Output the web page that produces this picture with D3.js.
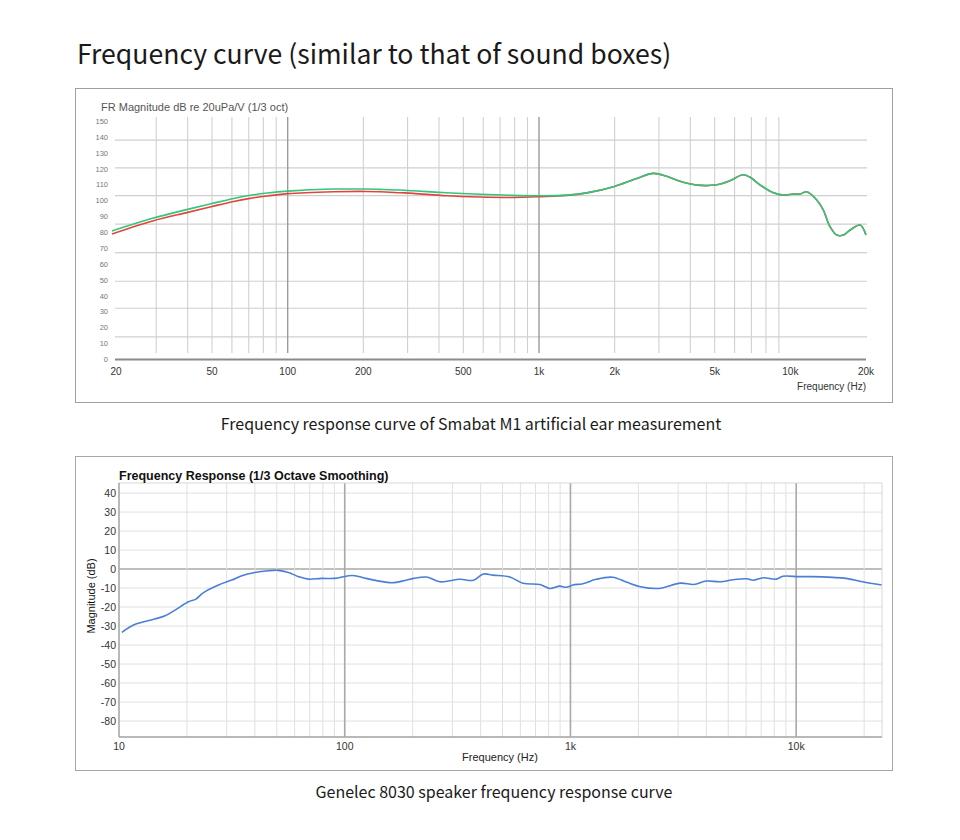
<!DOCTYPE html>
<html>
<head>
<meta charset="utf-8">
<script src="https://cdn.jsdelivr.net/npm/d3@7"></script>
<style>
  body { margin: 0; background: #fff; }
  svg { display: block; }
  .cap { font-family: "Noto Sans CJK SC", "Noto Sans", sans-serif; fill: #1a1a1a; }
  .chart { font-family: "Liberation Sans", Arial, sans-serif; }
</style>
</head>
<body>
<svg id="page" width="960" height="840"></svg>
<script>
// ---- top chart data (Smabat M1, artificial ear) ----
var topFreq = [20, 29, 40, 50, 61, 70, 83, 100, 152, 206, 232, 280, 316, 428, 580, 790, 1010, 1290,
  1550, 1980, 2450, 2850, 3220, 3640, 4250, 5100, 5750, 6470, 6920, 7590, 8570, 9390,
  10280, 10940, 11620, 12740, 13530, 14380, 15300, 16260, 17290, 18950, 20000];
var greenDb = [80.7, 88.7, 94.3, 98, 101.2, 103, 104.6, 105.8, 107.1, 107.1, 106.9, 106.5, 106, 104.8, 103.8, 103.1, 102.9, 103.3,
  104.7, 108.6, 113.8, 117, 115.2, 112, 109.6, 109.8, 112.3, 116.1, 114.5, 109.6, 104.8, 103.3,
  104, 104, 105.4, 100.2, 93.9, 83.4, 78.1, 78.1, 81.3, 84.4, 78.1];
var redDb = [78.8, 87, 92.4, 96.1, 99.3, 101.1, 102.7, 104.2, 105.4, 105.6, 105.4, 104.8, 104.4, 102.9, 102.1, 101.8, 102.3, 103.1,
  104.7, 108.6, 113.8, 117, 115.2, 112, 109.6, 109.8, 112.3, 116.1, 114.5, 109.6, 104.8, 103.3,
  104, 104, 105.4, 100.2, 93.9, 83.4, 78.1, 78.1, 81.3, 84.4, 78.1];
var topYTicks = [0, 10, 20, 30, 40, 50, 60, 70, 80, 90, 100, 110, 120, 130, 140, 150];
var topGridDb = [14, 32, 49, 67, 85, 103, 120.4, 138];
var topXTicks = [20, 50, 100, 200, 500, 1000, 2000, 5000, 10000, 20000];
var topXLabels = ["20", "50", "100", "200", "500", "1k", "2k", "5k", "10k", "20k"];

// ---- bottom chart data (Genelec 8030) ----
var botFreq = [10.3, 11.8, 14.4, 16, 17.7, 20.3, 21.9, 23.6, 27.6, 31.6, 35, 40, 45.9, 50.8, 56.3, 62.4, 69, 79, 90,
  104, 111, 123, 140, 162, 185, 202, 231, 264, 324, 371, 411, 454, 539, 617, 732, 810, 896, 958, 1025, 1135,
  1300, 1540, 1780, 2040, 2460, 3070, 3520, 4000, 4620, 5260, 6030, 6450, 7140, 8160, 8730, 10300, 11800,
  14500, 16600, 19700, 23900];
var botDb = [-33.3, -29.1, -26.3, -24.6, -21.6, -17.2, -15.8, -12.5, -8.4, -5.8, -3.5, -1.8, -0.9, -0.7, -1.8, -4, -5.3, -4.9, -4.9,
  -3.5, -3.5, -4.8, -6.2, -7.2, -6, -4.9, -4.2, -6.7, -5.4, -5.9, -2.6, -3.2, -4.2, -7.5, -8.1, -10.2, -9, -9.6, -8.4, -7.7,
  -5.4, -4.3, -7, -9.3, -10.2, -7.4, -8.1, -6.3, -6.7, -5.6, -5.1, -5.9, -4.6, -5.3, -3.8, -4, -4,
  -4.4, -4.9, -6.7, -8.4];
var botYTicks = [40, 30, 20, 10, 0, -10, -20, -30, -40, -50, -60, -70, -80];
var botXTicks = [10, 100, 1000, 10000];
var botXLabels = ["10", "100", "1k", "10k"];

var svg = d3.select('#page');

// page texts
svg.append('text').attr('class', 'cap')
  .attr('x', 77).attr('y', 64)
  .style('font-size', '26.6px')
  .text('Frequency curve (similar to that of sound boxes)');
svg.append('text').attr('class', 'cap')
  .attr('x', 471).attr('y', 430).attr('text-anchor', 'middle')
  .style('font-size', '16px')
  .text('Frequency response curve of Smabat M1 artificial ear measurement');
svg.append('text').attr('class', 'cap')
  .attr('x', 494).attr('y', 798).attr('text-anchor', 'middle')
  .style('font-size', '16px')
  .text('Genelec 8030 speaker frequency response curve');

// minor log gridline values between lo and hi
function logGrid(lo, hi) {
  var out = [];
  for (var d = 1; d < hi; d *= 10) {
    for (var m = 1; m < 10; m++) {
      var v = d * m;
      if (v >= lo && v <= hi) out.push(v);
    }
  }
  return out;
}
function isDecade(v) { return Math.abs(Math.log10(v) - Math.round(Math.log10(v))) < 1e-9; }

// ================= TOP CHART =================
var topG = svg.append('g').attr('class', 'chart');
topG.append('rect')
  .attr('x', 75.5).attr('y', 88.5).attr('width', 817).attr('height', 314)
  .attr('fill', '#fff').attr('stroke', '#a0a0a0');

var tx = d3.scaleLog().domain([20, 20000]).range([112, 866]);
var ty = d3.scaleLinear().domain([0, 150]).range([359, 121]);

topG.selectAll('.hgrid').data(topGridDb).enter().append('line')
  .attr('x1', 115).attr('x2', 867)
  .attr('y1', d => ty(d)).attr('y2', d => ty(d))
  .attr('stroke', '#cfcfcf').attr('stroke-width', 1.2);

topG.selectAll('.vgrid').data(logGrid(30, 10000)).enter().append('line')
  .attr('x1', d => tx(d)).attr('x2', d => tx(d))
  .attr('y1', 117).attr('y2', 353)
  .attr('stroke', d => isDecade(d) ? '#9a9a9a' : '#d0d0d0')
  .attr('stroke-width', d => isDecade(d) ? 1.4 : 1.1);

topG.append('line')
  .attr('x1', 115).attr('x2', 866).attr('y1', 359.5).attr('y2', 359.5)
  .attr('stroke', '#8a8a8a').attr('stroke-width', 2);

topG.append('text')
  .attr('x', 101).attr('y', 111)
  .style('font-size', '11px').attr('fill', '#555')
  .text('FR Magnitude dB re 20uPa/V (1/3 oct)');

topG.selectAll('.ylab').data(topYTicks).enter().append('text')
  .attr('x', 108).attr('y', d => ty(d) + 3)
  .attr('text-anchor', 'end')
  .style('font-size', '7.5px').attr('fill', '#777')
  .text(d => d);

topG.selectAll('.xlab').data(topXTicks).enter().append('text')
  .attr('x', (d, i) => tx(d) + (i === 0 ? 4 : 0)).attr('y', 375)
  .attr('text-anchor', 'middle')
  .style('font-size', '10px').attr('fill', '#333')
  .text((d, i) => topXLabels[i]);

topG.append('text')
  .attr('x', 866).attr('y', 390).attr('text-anchor', 'end')
  .style('font-size', '10px').attr('fill', '#333')
  .text('Frequency (Hz)');

var topLine = d3.line().curve(d3.curveCatmullRom.alpha(0.5))
  .x(d => tx(d[0])).y(d => ty(d[1]));

topG.append('path')
  .attr('d', topLine(d3.zip(topFreq, redDb)))
  .attr('fill', 'none').attr('stroke', '#e0453c').attr('stroke-width', 1.6);
topG.append('path')
  .attr('d', topLine(d3.zip(topFreq, greenDb)))
  .attr('fill', 'none').attr('stroke', '#35c47c').attr('stroke-width', 1.6);

// ================= BOTTOM CHART =================
var botG = svg.append('g').attr('class', 'chart');
botG.append('rect')
  .attr('x', 75.5).attr('y', 456.5).attr('width', 817).attr('height', 314)
  .attr('fill', '#fff').attr('stroke', '#a8a8a8');

var bx = d3.scaleLog().domain([10, 24000]).range([119, 882]);
var by = d3.scaleLinear().domain([-88.4, 45.3]).range([737, 483]);

botG.selectAll('.hgrid').data(botYTicks).enter().append('line')
  .attr('x1', 119).attr('x2', 882)
  .attr('y1', d => by(d)).attr('y2', d => by(d))
  .attr('stroke', d => d === 0 ? '#a8a8a8' : '#e0e0e0')
  .attr('stroke-width', d => d === 0 ? 1.6 : 1);

botG.selectAll('.vgrid').data(logGrid(20, 20000)).enter().append('line')
  .attr('x1', d => bx(d)).attr('x2', d => bx(d))
  .attr('y1', 483).attr('y2', 737)
  .attr('stroke', d => isDecade(d) ? '#a8a8a8' : '#e0e0e0')
  .attr('stroke-width', d => isDecade(d) ? 1.6 : 1);

// plot border
botG.append('rect')
  .attr('x', 119).attr('y', 483).attr('width', 763).attr('height', 254)
  .attr('fill', 'none').attr('stroke', '#d8d8d8');
botG.append('line')
  .attr('x1', 119).attr('x2', 119).attr('y1', 483).attr('y2', 737)
  .attr('stroke', '#a8a8a8').attr('stroke-width', 1.5);
botG.append('line')
  .attr('x1', 119).attr('x2', 882).attr('y1', 737).attr('y2', 737)
  .attr('stroke', '#a8a8a8').attr('stroke-width', 1.5);

botG.append('text')
  .attr('x', 119).attr('y', 480)
  .style('font-size', '12.5px').style('font-weight', 'bold').attr('fill', '#111')
  .text('Frequency Response (1/3 Octave Smoothing)');

botG.selectAll('.ylab').data(botYTicks).enter().append('text')
  .attr('x', 116).attr('y', d => by(d) + 4)
  .attr('text-anchor', 'end')
  .style('font-size', '10.5px').attr('fill', '#333')
  .text(d => d);

botG.selectAll('.xlab').data(botXTicks).enter().append('text')
  .attr('x', d => bx(d)).attr('y', 750)
  .attr('text-anchor', 'middle')
  .style('font-size', '10.5px').attr('fill', '#333')
  .text((d, i) => botXLabels[i]);

botG.append('text')
  .attr('x', 500).attr('y', 761).attr('text-anchor', 'middle')
  .style('font-size', '11px').attr('fill', '#222')
  .text('Frequency (Hz)');

botG.append('text')
  .attr('transform', 'translate(95,596) rotate(-90)')
  .attr('text-anchor', 'middle')
  .style('font-size', '11px').attr('fill', '#111')
  .text('Magnitude (dB)');

var botLine = d3.line().curve(d3.curveCatmullRom.alpha(0.5))
  .x(d => bx(d[0])).y(d => by(d[1]));
botG.append('path')
  .attr('d', botLine(d3.zip(botFreq, botDb)))
  .attr('fill', 'none').attr('stroke', '#4a7fd6').attr('stroke-width', 1.6);
</script>
</body>
</html>
